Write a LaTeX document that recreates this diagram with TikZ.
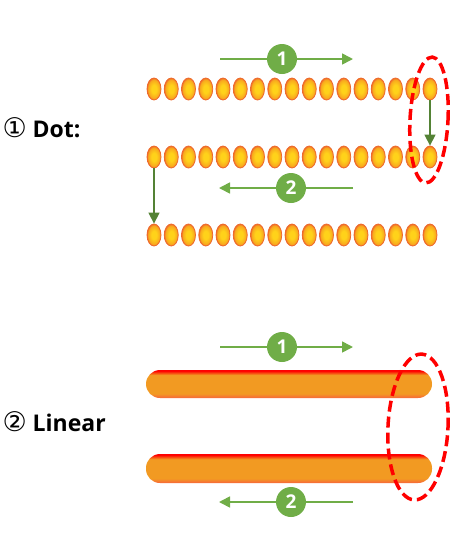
\documentclass[tikz,border=0pt]{standalone}
\usepackage{fontspec}
\setmainfont{Open Sans}
\newfontfamily\symfont{DejaVu Sans}
\usepackage{tikz}
\usetikzlibrary{arrows.meta,positioning,shapes.geometric}

\definecolor{leaf}{HTML}{70AD47}
\definecolor{darkleaf}{HTML}{548235}
\definecolor{rim}{HTML}{EE6A2C}
\definecolor{core}{HTML}{FFD21A}
\definecolor{dotmid}{HTML}{F8A81E}
\definecolor{barmid}{HTML}{F29A22}
\definecolor{barbot}{HTML}{F7663A}
% tikz maps the middle 50bp of a shading onto the path
\pgfdeclareverticalshading{barfill}{100bp}{color(0bp)=(barbot); color(25bp)=(barbot);
  color(33bp)=(barmid); color(66bp)=(barmid); color(73.5bp)=(red); color(100bp)=(red)}
\pgfdeclareradialshading{dotfill}{\pgfpoint{0bp}{0bp}}{color(0bp)=(core);
  color(9bp)=(core); color(21bp)=(dotmid); color(25bp)=(rim); color(50bp)=(rim)}

\tikzset{
  dot/.style={ellipse, minimum width=14pt, minimum height=22pt, inner sep=0pt,
    draw=rim, line width=0.8pt, shading=dotfill},
  num/.style={circle, fill=leaf, text=white, minimum size=30pt, inner sep=0pt,
    font=\fontsize{19}{19}\selectfont\bfseries},
  flow/.style={leaf, line width=1.6pt, -{Triangle[width=11pt,length=11pt]}},
  drop/.style={darkleaf, line width=1.3pt, -{Triangle[width=11pt,length=11pt]}},
  ring/.style={ellipse, draw=red, line width=3.5pt, dash pattern=on 11pt off 5pt,
    inner sep=0pt},
  bar/.style={shading=barfill, rounded corners=14pt},
  title/.style={anchor=west, font=\fontsize{23}{28}\selectfont\bfseries}
}

\begin{document}
\begin{tikzpicture}[x=1pt,y=-1pt]
\useasboundingbox (0,0) rectangle (450,550);

% dot rows
\foreach \i in {1,...,17}{
  \node[dot] (a\i) at ({154+17.25*(\i-1)},89) {};
  \node[dot] (b\i) at ({154+17.25*(\i-1)},157) {};
  \node[dot] (c\i) at ({154+17.25*(\i-1)},235) {};
}
\node[title] (dotlabel) at (-1,128) {{\symfont\mdseries\fontsize{27}{27}\selectfont ①} Dot:};

\coordinate (f1s) at (220,59); \coordinate (f1e) at (353,59);
\draw[flow] (f1s) -- (f1e);
\node[num] (n1) at (282,59) {1};
\coordinate (f2s) at (353,188); \coordinate (f2e) at (219,188);
\draw[flow] (f2s) -- (f2e);
\node[num] (n2) at (291,188) {2};

\draw[drop] (a17.south) -- (b17.north);
\draw[drop] (b1.south) -- (c1.north);
\node[ring, minimum width=38pt, minimum height=126pt, rotate=-3] (ring1) at (429,120) {};

% linear bars
\shade[bar] (146,370) rectangle (432,398);
\shade[bar] (146,454) rectangle (432,483);
\node[title] (linlabel) at (-1,422) {{\symfont\mdseries\fontsize{27}{27}\selectfont ②} Linear};

\coordinate (f3s) at (220,347); \coordinate (f3e) at (353,347);
\draw[flow] (f3s) -- (f3e);
\node[num] (n3) at (282,347) {1};
\coordinate (f4s) at (353,502); \coordinate (f4e) at (219,502);
\draw[flow] (f4s) -- (f4e);
\node[num] (n4) at (291,502) {2};

\node[ring, minimum width=60pt, minimum height=146pt, rotate=-3] (ring2) at (418,427) {};
\end{tikzpicture}
\end{document}
